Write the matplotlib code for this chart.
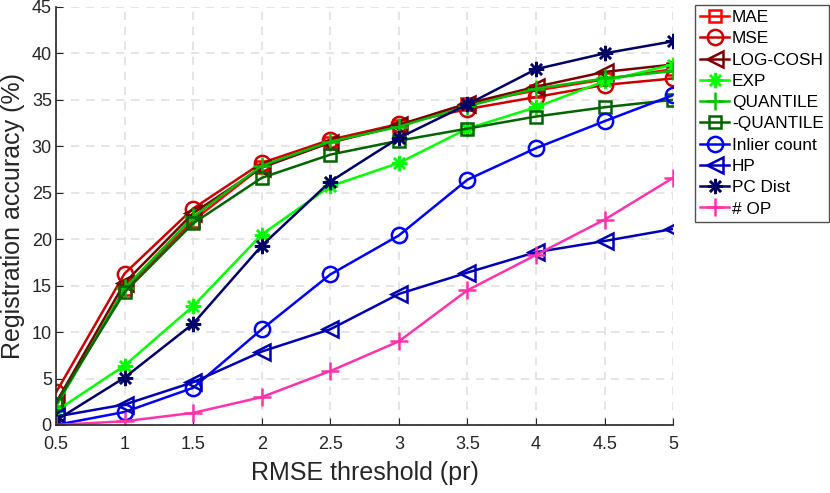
import numpy as np
import matplotlib
matplotlib.use('Agg')
import matplotlib.pyplot as plt

plt.rcParams['font.family'] = ['Liberation Sans', 'DejaVu Sans']

thresholds = [0.5, 1, 1.5, 2, 2.5, 3, 3.5, 4, 4.5, 5]

mae = [2.2, 14.6, 22.0, 27.8, 30.4, 32.2, 34.6, 36.0, 37.2, 38.3]
mse = [3.5, 16.3, 23.3, 28.2, 30.7, 32.4, 34.0, 35.3, 36.6, 37.3]
logcosh = [2.4, 15.3, 22.8, 27.7, 30.4, 32.3, 34.6, 36.4, 38.0, 38.8]
exp_loss = [1.5, 6.4, 12.8, 20.5, 25.7, 28.2, 31.9, 34.2, 37.0, 38.8]
quantile = [2.0, 14.7, 22.4, 27.9, 30.5, 32.1, 34.3, 36.2, 37.3, 38.1]
neg_quantile = [2.3, 14.3, 21.7, 26.6, 29.1, 30.6, 31.9, 33.2, 34.2, 35.0]
inlier = [0.0, 1.4, 4.0, 10.3, 16.2, 20.4, 26.4, 29.8, 32.7, 35.5]
hp = [0.9, 2.2, 4.6, 7.9, 10.3, 14.1, 16.4, 18.6, 19.8, 21.1]
pc_dist = [0.5, 5.1, 10.9, 19.3, 26.2, 30.9, 34.5, 38.3, 40.0, 41.3]
n_op = [0.0, 0.4, 1.3, 3.0, 5.8, 9.0, 14.5, 18.3, 22.1, 26.6]

names = ['MAE', 'MSE', 'LOG-COSH', 'EXP', 'QUANTILE', '-QUANTILE',
         'Inlier count', 'HP', 'PC Dist', '# OP']
series = [mae, mse, logcosh, exp_loss, quantile, neg_quantile,
          inlier, hp, pc_dist, n_op]
colors = ['#ff0000', '#cc0000', '#7a0000', '#00ff00', '#00c000', '#006400',
          '#0000ff', '#0000b0', '#000066', '#ff33aa']
asterisk = (8, 2, 0)
markers = ['s', 'o', '<', asterisk, '+', 's', 'o', '<', asterisk, '+']
msizes = [9, 11, 11, 11, 13, 9, 11, 11, 11, 13]

fig = plt.figure(figsize=(8.3, 4.93), dpi=100)
ax = fig.add_axes([0.0675, 0.138, 0.7435, 0.848])

for y, name, c, m, ms in zip(series, names, colors, markers, msizes):
    ax.plot(thresholds, y, color=c, marker=m, markersize=ms, linewidth=1.8,
            markerfacecolor='none', markeredgecolor=c, markeredgewidth=1.8,
            label=name)

ax.set_xlim(0.5, 5)
ax.set_ylim(0, 45)
ax.set_xticks(np.arange(0.5, 5.01, 0.5))
ax.set_xticklabels(['0.5', '1', '1.5', '2', '2.5', '3', '3.5', '4', '4.5', '5'])
ax.set_yticks(np.arange(0, 46, 5))
ax.grid(True, linestyle=(0, (5, 4)), color='#e0e0e0', linewidth=1.2)
ax.set_axisbelow(True)
ax.spines['top'].set_visible(False)
ax.spines['right'].set_visible(False)
for s in ['left', 'bottom']:
    ax.spines[s].set_color('#262626')
    ax.spines[s].set_linewidth(1.2)
ax.tick_params(labelsize=13, colors='#262626', direction='in', length=5)
ax.tick_params(axis='x', pad=8)
ax.tick_params(axis='y', pad=3)
for lab in ax.get_xticklabels() + ax.get_yticklabels():
    lab.set_family(['Liberation Sans Narrow', 'Liberation Sans'])
ax.set_xlabel('RMSE threshold (pr)', fontsize=18, color='#262626')
ax.set_ylabel('Registration accuracy (%)', fontsize=18, color='#262626')
ax.xaxis.set_label_coords(0.5, -0.085)
ax.yaxis.set_label_coords(-0.05, 0.5)

leg = fig.legend(loc='upper left', bbox_to_anchor=(695 / 830, 1 - 5 / 493),
                 fontsize=12.4, frameon=True, fancybox=False, handlelength=1.7,
                 borderpad=0.3, labelspacing=0.36, handletextpad=0.15,
                 borderaxespad=0)
leg.get_frame().set_edgecolor('#262626')
leg.get_frame().set_linewidth(1.0)

fig.savefig('out.png', dpi=100)
